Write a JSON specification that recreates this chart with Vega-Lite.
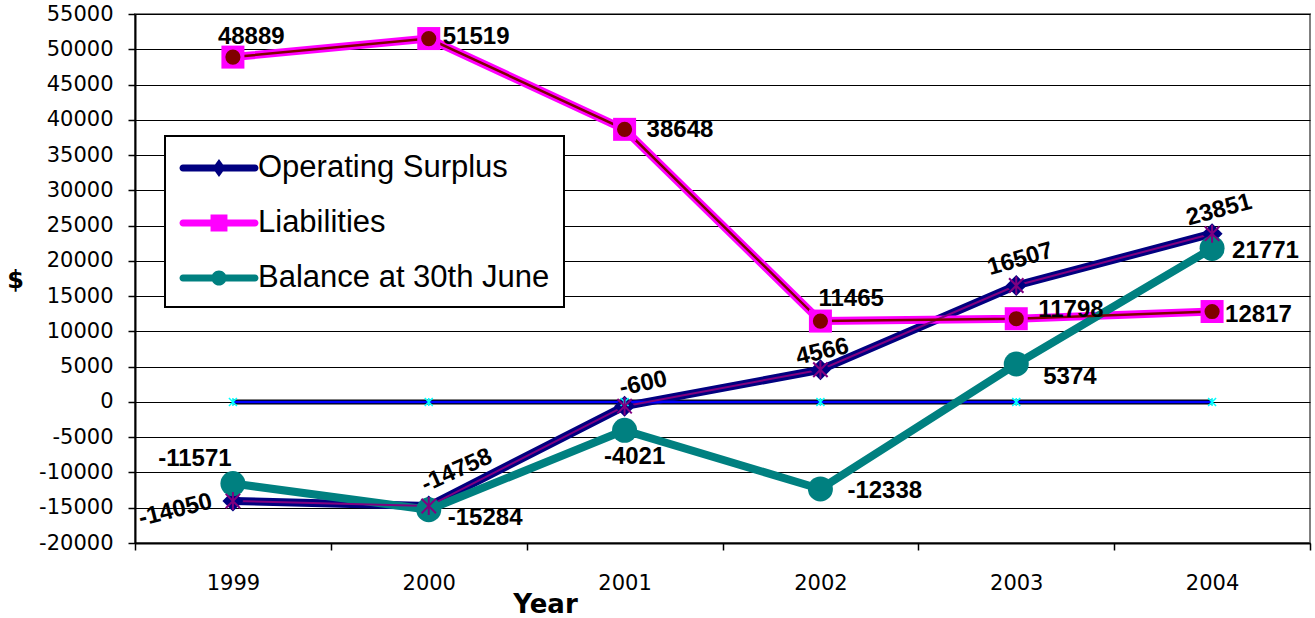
{
  "$schema": "https://vega.github.io/schema/vega-lite/v6.json",
  "width": 1175,
  "height": 529,
  "autosize": {"type": "none"},
  "padding": {"left": 135, "top": 14, "right": 5, "bottom": 75},
  "background": "white",
  "data": {
    "values": [
      {"year": "1999", "series": "Operating Surplus", "value": -14050},
      {"year": "2000", "series": "Operating Surplus", "value": -14758},
      {"year": "2001", "series": "Operating Surplus", "value": -600},
      {"year": "2002", "series": "Operating Surplus", "value": 4566},
      {"year": "2003", "series": "Operating Surplus", "value": 16507},
      {"year": "2004", "series": "Operating Surplus", "value": 23851},
      {"year": "1999", "series": "Liabilities", "value": 48889},
      {"year": "2000", "series": "Liabilities", "value": 51519},
      {"year": "2001", "series": "Liabilities", "value": 38648},
      {"year": "2002", "series": "Liabilities", "value": 11465},
      {"year": "2003", "series": "Liabilities", "value": 11798},
      {"year": "2004", "series": "Liabilities", "value": 12817},
      {"year": "1999", "series": "Balance at 30th June", "value": -11571},
      {"year": "2000", "series": "Balance at 30th June", "value": -15284},
      {"year": "2001", "series": "Balance at 30th June", "value": -4021},
      {"year": "2002", "series": "Balance at 30th June", "value": -12338},
      {"year": "2003", "series": "Balance at 30th June", "value": 5374},
      {"year": "2004", "series": "Balance at 30th June", "value": 21771},
      {"year": "1999", "series": "Zero", "value": 0},
      {"year": "2000", "series": "Zero", "value": 0},
      {"year": "2001", "series": "Zero", "value": 0},
      {"year": "2002", "series": "Zero", "value": 0},
      {"year": "2003", "series": "Zero", "value": 0},
      {"year": "2004", "series": "Zero", "value": 0}
    ]
  },
  "encoding": {
    "x": {
      "field": "year", "type": "ordinal",
      "scale": {"type": "band", "paddingInner": 0, "paddingOuter": 0},
      "axis": {
        "title": "Year", "orient": "bottom", "tickBand": "extent", "labelAngle": 0,
        "labelFont": "DejaVu Sans", "labelFontSize": 21, "labelColor": "black", "labelPadding": 22,
        "ticks": true, "tickSize": 7, "tickColor": "black", "tickWidth": 1.5,
        "domainColor": "black", "domainWidth": 2, "grid": false,
        "titleFont": "DejaVu Sans", "titleFontSize": 26, "titleFontWeight": "bold", "titleColor": "black",
        "titleX": 410, "titleY": 61, "titleBaseline": "middle", "titleAlign": "center"
      }
    },
    "y": {
      "field": "value", "type": "quantitative",
      "scale": {"domain": [-20000, 55000], "nice": false, "zero": false},
      "axis": {
        "title": "$",
        "values": [-20000, -15000, -10000, -5000, 0, 5000, 10000, 15000, 20000, 25000, 30000, 35000, 40000, 45000, 50000, 55000],
        "labelExpr": "'' + datum.value",
        "labelFont": "DejaVu Sans", "labelFontSize": 21, "labelColor": "black", "labelPadding": 15,
        "tickSize": 7, "tickColor": "black", "tickWidth": 1.5,
        "domainColor": "black", "domainWidth": 2,
        "grid": true, "gridColor": "black", "gridWidth": 1,
        "titleFont": "DejaVu Sans", "titleFontSize": 24, "titleFontWeight": "bold", "titleColor": "black",
        "titleAngle": 0, "titleX": -120, "titleY": 266, "titleBaseline": "middle", "titleAlign": "center"
      }
    }
  },
  "layer": [
    {
      "transform": [{"filter": "datum.series == 'Zero'"}],
      "mark": {"type": "line", "color": "#000000", "strokeWidth": 5},
      "encoding": {}
    },
    {
      "transform": [{"filter": "datum.series == 'Operating Surplus' || datum.series == 'Liabilities'"}],
      "mark": {"type": "line", "strokeWidth": 8, "strokeJoin": "round", "strokeCap": "butt"},
      "encoding": {
        "color": {
          "field": "series", "type": "nominal",
          "scale": {"domain": ["Operating Surplus", "Liabilities", "Balance at 30th June"], "range": ["#000080", "#FF00FF", "#008080"]},
          "legend": {
            "title": null, "orient": "none", "legendX": 30, "legendY": 122, "direction": "vertical",
            "fillColor": "white", "strokeColor": "black", "padding": 14, "rowPadding": 22,
            "labelFont": "Liberation Sans", "labelFontSize": 31, "labelColor": "black", "labelOffset": 43, "labelLimit": 500,
            "symbolSize": 1296,
            "encode": {
              "symbols": {
                "update": {
                  "shape": {"signal": "datum.value == 'Operating Surplus' ? 'M-0.778,-0.194L3.222,-0.194L3.222,0.194L-0.778,0.194Z M-0.778,-0.194A0.194,0.194 0 0,0 -0.778,0.194Z M3.222,-0.194A0.194,0.194 0 0,1 3.222,0.194Z M1.222,-0.5L1.583,0L1.222,0.5L0.861,0Z' : datum.value == 'Liabilities' ? 'M-0.778,-0.194L3.222,-0.194L3.222,0.194L-0.778,0.194Z M-0.778,-0.194A0.194,0.194 0 0,0 -0.778,0.194Z M3.222,-0.194A0.194,0.194 0 0,1 3.222,0.194Z M0.752,-0.47L1.692,-0.47L1.692,0.47L0.752,0.47Z' : 'M-0.778,-0.194L3.222,-0.194L3.222,0.194L-0.778,0.194Z M-0.778,-0.194A0.194,0.194 0 0,0 -0.778,0.194Z M3.222,-0.194A0.194,0.194 0 0,1 3.222,0.194Z M0.802,0A0.42,0.42 0 1,1 1.642,0A0.42,0.42 0 1,1 0.802,0Z'"},
                  "fill": {"signal": "datum.value == 'Operating Surplus' ? '#000080' : datum.value == 'Liabilities' ? '#FF00FF' : '#008080'"},
                  "stroke": {"value": "transparent"},
                  "strokeWidth": {"value": 0},
                  "opacity": {"value": 1},
                  "fillOpacity": {"value": 1}
                }
              }
            }
          }
        }
      }
    },
    {
      "transform": [{"filter": "datum.series == 'Zero'"}],
      "mark": {"type": "line", "color": "#0000FF", "strokeWidth": 2.5},
      "encoding": {}
    },
    {
      "transform": [{"filter": "datum.series == 'Balance at 30th June'"}],
      "mark": {"type": "line", "color": "#008080", "strokeWidth": 8, "strokeJoin": "round"},
      "encoding": {}
    },
    {
      "transform": [{"filter": "datum.series == 'Operating Surplus'"}],
      "mark": {"type": "line", "color": "#800080", "strokeWidth": 2},
      "encoding": {}
    },
    {
      "transform": [{"filter": "datum.series == 'Liabilities'"}],
      "mark": {"type": "line", "color": "#800000", "strokeWidth": 2.5},
      "encoding": {}
    },
    {
      "transform": [{"filter": "datum.series == 'Operating Surplus'"}],
      "mark": {"type": "point", "shape": "diamond", "filled": true, "color": "#000080", "size": 441, "opacity": 1},
      "encoding": {}
    },
    {
      "transform": [{"filter": "datum.series == 'Liabilities'"}],
      "mark": {"type": "point", "shape": "square", "filled": true, "color": "#FF00FF", "size": 529, "opacity": 1},
      "encoding": {}
    },
    {
      "transform": [{"filter": "datum.series == 'Zero'"}],
      "mark": {"type": "point", "shape": "M-1,-1L1,1M-1,1L1,-1M0,-1L0,1", "filled": false, "color": "#00FFFF", "strokeWidth": 1.5, "size": 64, "opacity": 1},
      "encoding": {}
    },
    {
      "transform": [{"filter": "datum.series == 'Balance at 30th June'"}],
      "mark": {"type": "point", "shape": "circle", "filled": true, "color": "#008080", "size": 625, "opacity": 1},
      "encoding": {}
    },
    {
      "transform": [{"filter": "datum.series == 'Operating Surplus'"}],
      "mark": {"type": "point", "shape": "M0,-1L0,1M-0.8,-0.8L0.8,0.8M-0.8,0.8L0.8,-0.8", "filled": false, "color": "#800080", "strokeWidth": 2, "size": 324, "opacity": 1},
      "encoding": {}
    },
    {
      "transform": [{"filter": "datum.series == 'Liabilities'"}],
      "mark": {"type": "point", "shape": "circle", "filled": true, "color": "#800000", "size": 230, "opacity": 1},
      "encoding": {}
    },
    {"transform": [{"filter": "datum.series == 'Operating Surplus' && datum.year == '1999'"}], "mark": {"type": "text", "align": "center", "baseline": "middle", "angle": -14, "dx": -58, "dy": -5}, "encoding": {"text": {"field": "value", "type": "nominal"}}},
    {"transform": [{"filter": "datum.series == 'Operating Surplus' && datum.year == '2000'"}], "mark": {"type": "text", "align": "center", "baseline": "middle", "angle": -24, "dx": 40, "dy": -21}, "encoding": {"text": {"field": "value", "type": "nominal"}}},
    {"transform": [{"filter": "datum.series == 'Operating Surplus' && datum.year == '2001'"}], "mark": {"type": "text", "align": "center", "baseline": "middle", "angle": -12, "dx": 23, "dy": -18}, "encoding": {"text": {"field": "value", "type": "nominal"}}},
    {"transform": [{"filter": "datum.series == 'Operating Surplus' && datum.year == '2002'"}], "mark": {"type": "text", "align": "center", "baseline": "middle", "angle": -13, "dx": 6, "dy": -17}, "encoding": {"text": {"field": "value", "type": "nominal"}}},
    {"transform": [{"filter": "datum.series == 'Operating Surplus' && datum.year == '2003'"}], "mark": {"type": "text", "align": "center", "baseline": "middle", "angle": -16, "dx": 11, "dy": -24}, "encoding": {"text": {"field": "value", "type": "nominal"}}},
    {"transform": [{"filter": "datum.series == 'Operating Surplus' && datum.year == '2004'"}], "mark": {"type": "text", "align": "center", "baseline": "middle", "angle": -15, "dx": 13, "dy": -21}, "encoding": {"text": {"field": "value", "type": "nominal"}}},
    {"transform": [{"filter": "datum.series == 'Liabilities' && datum.year == '1999'"}], "mark": {"type": "text", "align": "left", "baseline": "middle", "dx": -15, "dy": -20}, "encoding": {"text": {"field": "value", "type": "nominal"}}},
    {"transform": [{"filter": "datum.series == 'Liabilities' && datum.year == '2000'"}], "mark": {"type": "text", "align": "left", "baseline": "middle", "dx": 14, "dy": -2}, "encoding": {"text": {"field": "value", "type": "nominal"}}},
    {"transform": [{"filter": "datum.series == 'Liabilities' && datum.year == '2001'"}], "mark": {"type": "text", "align": "left", "baseline": "middle", "dx": 22, "dy": 1}, "encoding": {"text": {"field": "value", "type": "nominal"}}},
    {"transform": [{"filter": "datum.series == 'Liabilities' && datum.year == '2002'"}], "mark": {"type": "text", "align": "left", "baseline": "middle", "dx": -2, "dy": -22}, "encoding": {"text": {"field": "value", "type": "nominal"}}},
    {"transform": [{"filter": "datum.series == 'Liabilities' && datum.year == '2003'"}], "mark": {"type": "text", "align": "left", "baseline": "middle", "dx": 22, "dy": -9}, "encoding": {"text": {"field": "value", "type": "nominal"}}},
    {"transform": [{"filter": "datum.series == 'Liabilities' && datum.year == '2004'"}], "mark": {"type": "text", "align": "left", "baseline": "middle", "dx": 13, "dy": 3}, "encoding": {"text": {"field": "value", "type": "nominal"}}},
    {"transform": [{"filter": "datum.series == 'Balance at 30th June' && datum.year == '1999'"}], "mark": {"type": "text", "align": "center", "baseline": "middle", "dx": -38, "dy": -25}, "encoding": {"text": {"field": "value", "type": "nominal"}}},
    {"transform": [{"filter": "datum.series == 'Balance at 30th June' && datum.year == '2000'"}], "mark": {"type": "text", "align": "left", "baseline": "middle", "dx": 19, "dy": 8}, "encoding": {"text": {"field": "value", "type": "nominal"}}},
    {"transform": [{"filter": "datum.series == 'Balance at 30th June' && datum.year == '2001'"}], "mark": {"type": "text", "align": "center", "baseline": "middle", "dx": 10, "dy": 27}, "encoding": {"text": {"field": "value", "type": "nominal"}}},
    {"transform": [{"filter": "datum.series == 'Balance at 30th June' && datum.year == '2002'"}], "mark": {"type": "text", "align": "left", "baseline": "middle", "dx": 27, "dy": 2}, "encoding": {"text": {"field": "value", "type": "nominal"}}},
    {"transform": [{"filter": "datum.series == 'Balance at 30th June' && datum.year == '2003'"}], "mark": {"type": "text", "align": "left", "baseline": "middle", "dx": 27, "dy": 13}, "encoding": {"text": {"field": "value", "type": "nominal"}}},
    {"transform": [{"filter": "datum.series == 'Balance at 30th June' && datum.year == '2004'"}], "mark": {"type": "text", "align": "left", "baseline": "middle", "dx": 20, "dy": 3}, "encoding": {"text": {"field": "value", "type": "nominal"}}}
  ],
  "config": {
    "view": {"stroke": "#808080", "strokeWidth": 2},
    "text": {"font": "Liberation Sans", "fontSize": 24, "fontWeight": "bold", "color": "black"},
    "legend": {"strokeWidth": 2}
  }
}
